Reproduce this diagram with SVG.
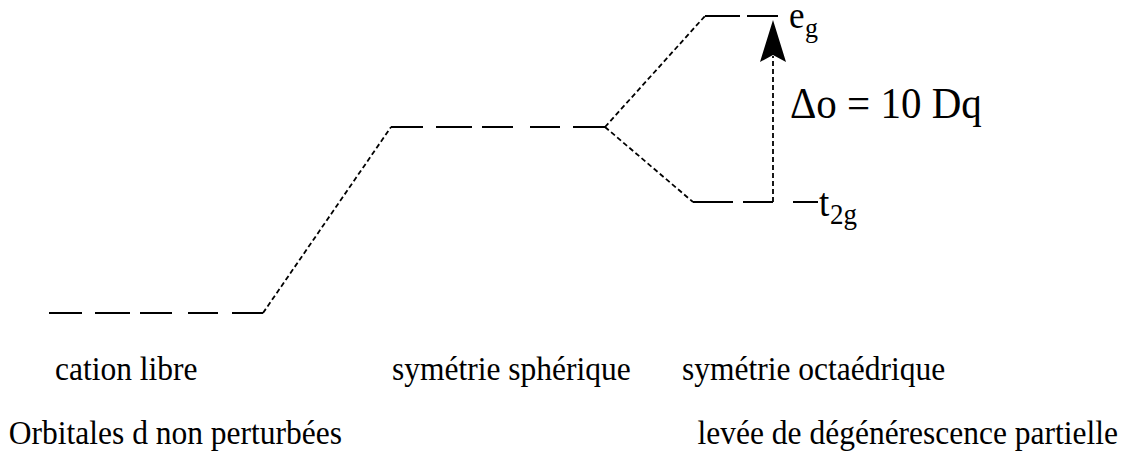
<svg xmlns="http://www.w3.org/2000/svg" width="1127" height="461" viewBox="0 0 1127 461">
<style>
.lvl{stroke:#000;stroke-width:2;fill:none}
.dot{stroke:#000;stroke-width:1.8;fill:none;stroke-dasharray:5 3}
text{font-family:"Liberation Serif","Times New Roman",serif;fill:#000}
.lab{font-size:31.5px}
</style>
<rect width="1127" height="461" fill="#fff"/>
<g id="level-free">
<path class="lvl" d="M49 313H82M95 313H130M140 313H172M188 313H218M232 313H263"/>
</g>
<g id="level-spherical">
<path class="lvl" d="M391 127H423M436 127H472M482 127H513M530 127H560M573 127H605"/>
</g>
<g id="level-eg">
<path class="lvl" d="M705 16H740M747 16H778"/>
<text transform="translate(789 28) scale(1 1.07)" font-size="35">e</text>
<text transform="translate(805 37) scale(1 1.07)" font-size="26">g</text>
</g>
<g id="level-t2g">
<path class="lvl" d="M693 202H733M743 202H773M793 202H818"/>
<text transform="translate(819 216) scale(1 1.07)" font-size="37">t</text>
<text transform="translate(830 224) scale(1 1.07)" font-size="27">2g</text>
</g>
<g id="connectors">
<path class="dot" d="M263 313L391 127"/>
<path class="dot" d="M605 127L705 16"/>
<path class="dot" d="M605 127L693 202"/>
<path class="dot" d="M773 202V56"/>
<path d="M773 20L786 62L773 55L760 62Z" fill="#000"/>
</g>
<g id="labels">
<text transform="translate(790 118) scale(1 1.07)" font-size="41">Δo = 10 Dq</text>
<text class="lab" transform="translate(55 380) scale(1 1.07)">cation libre</text>
<text class="lab" transform="translate(392 380) scale(1 1.07)">symétrie sphérique</text>
<text class="lab" transform="translate(682 380) scale(1 1.07)">symétrie octaédrique</text>
<text class="lab" transform="translate(342 444) scale(1 1.07)" text-anchor="end">Orbitales d non perturbées</text>
<text class="lab" transform="translate(1118 444) scale(1 1.07)" text-anchor="end">levée de dégénérescence partielle</text>
</g>
</svg>
